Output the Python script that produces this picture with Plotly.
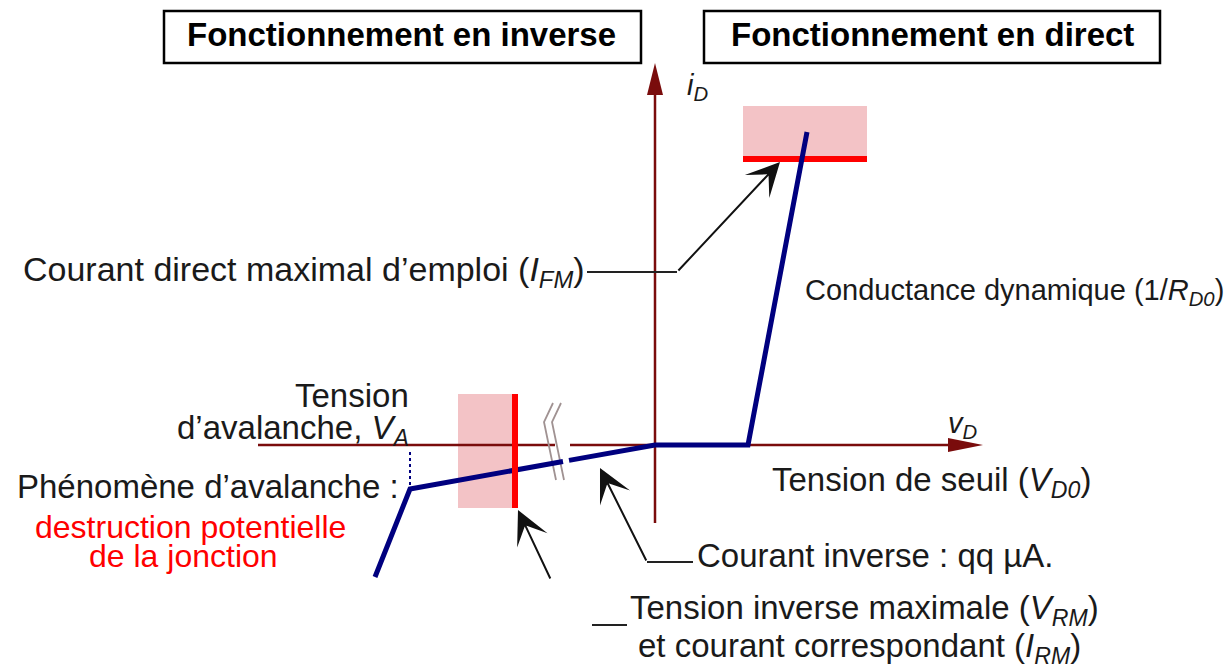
import plotly.graph_objects as go

# diode characteristic, piecewise linear model (origin at the axis crossing)
# reverse branch: avalanche -> V_A knee -> leakage (with axis break) ; forward: V_D0 then 1/R_D0
v_curve = [-280, -245, -92, None, -86, 0, 93, 152]
i_curve = [-132, -44, -16.5, None, -15.4, 0, 0, 313]

v_A = -245          # tension d'avalanche
v_D0 = 93           # tension de seuil
i_FM = 286          # courant direct maximal d'emploi
v_RM = -140         # tension inverse maximale

ifm_zone_v = [88, 212]
ifm_zone_i = [285, 339]
vrm_zone_v = [-197, -137]
vrm_zone_i = [-63, 51]

x_axis = [-397, 328]
x_gap = [-100, -85]
y_axis = [-78, 382]

break_v1 = [-102, -111, -99]
break_v2 = [-94, -103, -91]
break_i = [42, 23, -35]

AXIS = "#7A0C0C"
NAVY = "#00007F"
RED = "#FF0000"
PINK = "#F3C3C6"
INK = "#1A1A1A"
FONT = "Liberation Sans, Arial, sans-serif"

fig = go.Figure()


def line(xs, ys, color, width, dash=None):
    fig.add_trace(go.Scatter(x=xs, y=ys, mode="lines", hoverinfo="skip",
                             line=dict(color=color, width=width, dash=dash)))


def box(xs, ys, color):
    fig.add_trace(go.Scatter(x=[xs[0], xs[1], xs[1], xs[0], xs[0]],
                             y=[ys[0], ys[0], ys[1], ys[1], ys[0]],
                             mode="lines", fill="toself", fillcolor=color,
                             line=dict(width=0), hoverinfo="skip"))


# shaded limit zones
box(ifm_zone_v, ifm_zone_i, PINK)
box(vrm_zone_v, vrm_zone_i, PINK)

# axes (with break on the reverse side)
line([x_axis[0], x_gap[0]], [0, 0], AXIS, 2.5)
line([x_gap[1], x_axis[1] - 30], [0, 0], AXIS, 2.5)
line([0, 0], [y_axis[0], y_axis[1] - 28], AXIS, 2.5)
hl, hw = 35, 7
fig.add_trace(go.Scatter(x=[x_axis[1], x_axis[1] - hl, x_axis[1] - hl, x_axis[1]],
                         y=[0, hw, -hw, 0], mode="lines", fill="toself",
                         fillcolor=AXIS, line=dict(width=0), hoverinfo="skip"))
hl, hw = 32, 8
fig.add_trace(go.Scatter(x=[0, hw, -hw, 0],
                         y=[y_axis[1], y_axis[1] - hl, y_axis[1] - hl, y_axis[1]],
                         mode="lines", fill="toself", fillcolor=AXIS,
                         line=dict(width=0), hoverinfo="skip"))

# break mark
line(break_v1, break_i, "#A09292", 1.8)
line(break_v2, break_i, "#A09292", 1.8)

# limit lines
line(ifm_zone_v, [i_FM, i_FM], RED, 6)

# characteristic
fig.add_trace(go.Scatter(x=v_curve, y=i_curve, mode="lines", hoverinfo="skip",
                         connectgaps=False, line=dict(color=NAVY, width=5)))
line([v_RM, v_RM], vrm_zone_i, RED, 6)
line([v_A, v_A], [-7, -43], NAVY, 2, "dot")

# leader lines
line([-68, 22], [173, 173], "#222222", 2)
line([38, -8], [-117, -117], "#222222", 2)
line([-63, -28], [-180, -180], "#222222", 2)

arrows = [
    dict(x=125, y=283, ax=22, ay=173),
    dict(x=-137, y=-65, ax=-104, ay=-135),
    dict(x=-55, y=-23, ax=-8, ay=-117),
]
for a in arrows:
    fig.add_annotation(x=a["x"], y=a["y"], ax=a["ax"], ay=a["ay"], axref="x", ayref="y",
                       text="", showarrow=True, arrowhead=3, arrowsize=2.8,
                       arrowwidth=2, arrowcolor="#111111", standoff=0)

# header boxes
for x0, x1 in [(-491, -14), (49, 505)]:
    fig.add_shape(type="rect", x0=x0, x1=x1, y0=382, y1=434,
                  line=dict(color="black", width=2.5), fillcolor="white")


def txt(x, y, s, size=33, anchor="left", color=INK, bold=False):
    fig.add_annotation(x=x, y=y, text=s, showarrow=False, xanchor=anchor, yanchor="middle",
                       font=dict(family=FONT, size=size, color=color,
                                 weight="bold" if bold else "normal"))


txt(-254, 411, "Fonctionnement en inverse", 33, "center", "black", True)
txt(277, 411, "Fonctionnement en direct", 33, "center", "black", True)
txt(42, 358, "<i>i<sub>D</sub></i>", 29, "center")
txt(307, 20, "<i>v<sub>D</sub></i>", 29, "center")
txt(-68, 174, "Courant direct maximal d’emploi (<i>I<sub>FM</sub></i>)", 34, "right")
txt(148, 153, "Conductance dynamique (1/<i>R<sub>D0</sub></i>)", 29, "left")
txt(115, -37, "Tension de seuil (<i>V<sub>D0</sub></i>)", 33, "left")
txt(-244, 50, "Tension", 33, "right")
txt(-244, 15, "d’avalanche, <i>V<sub>A</sub></i>", 33, "right")
txt(-640, -41, "Phénomène d’avalanche :", 33, "left")
txt(-465, -82, "destruction potentielle", 32, "center", RED)
txt(-472, -111, "de la jonction", 32, "center", RED)
txt(40, -110, "Courant inverse : qq µA.", 33, "left")
txt(-27, -165, "Tension inverse maximale (<i>V<sub>RM</sub></i>)", 33, "left")
txt(-19, -203, "et courant correspondant (<i>I<sub>RM</sub></i>)", 33, "left")

fig.update_layout(
    width=1224, height=665, margin=dict(l=0, r=0, t=0, b=0),
    plot_bgcolor="white", paper_bgcolor="white", showlegend=False,
    xaxis=dict(range=[-655, 569], visible=False, fixedrange=True),
    yaxis=dict(range=[-220, 445], visible=False, fixedrange=True),
)

fig.write_html("out.html", config={"displayModeBar": False},
               post_script="document.body.style.margin='0';")
